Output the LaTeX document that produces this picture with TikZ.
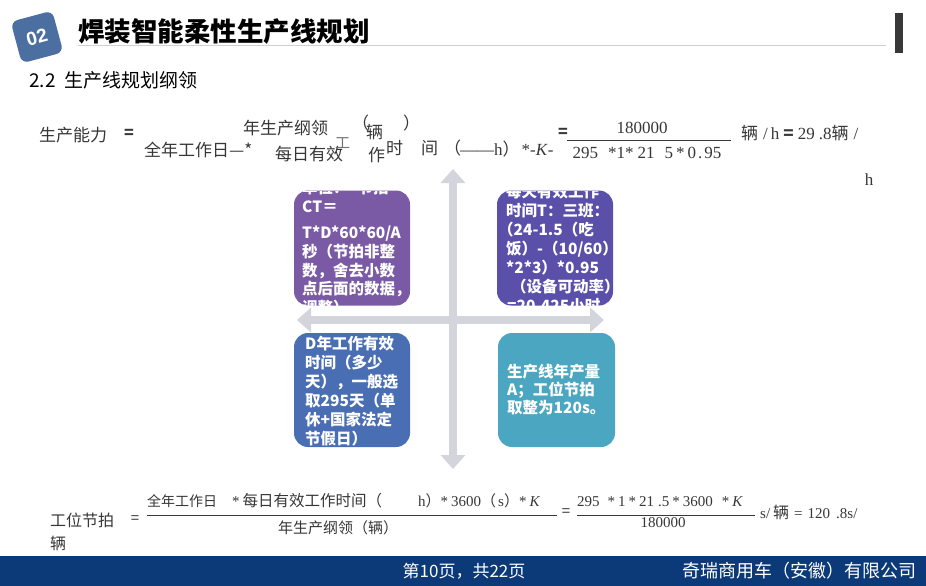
\documentclass[tikz,border=0pt]{standalone}
\usepackage{fontspec}
\setmainfont{Liberation Serif}
\newfontfamily\cjk{Noto Sans CJK SC}
\newfontfamily\lsans{Liberation Sans}
\usetikzlibrary{arrows.meta}
\definecolor{tlcol}{RGB}{122,90,164}
\definecolor{trcol}{RGB}{90,80,170}
\definecolor{blcol}{RGB}{74,110,180}
\definecolor{brcol}{RGB}{75,166,193}
\definecolor{badgecol}{RGB}{74,111,160}
\definecolor{footcol}{RGB}{12,58,120}
\definecolor{arrcol}{RGB}{212,212,220}
\definecolor{ftcol}{RGB}{55,55,55}
\tikzset{
  ftxt/.style={font=\cjk\fontsize{17}{17}\selectfont, text=ftcol, inner sep=0pt, anchor=west},
  fser/.style={font=\fontsize{17}{17}\selectfont, text=ftcol, inner sep=0pt, anchor=west},
  btxt/.style={font=\cjk\fontsize{15}{15}\selectfont, text=ftcol, inner sep=0pt, anchor=west},
  bser/.style={font=\fontsize{15}{15}\selectfont, text=ftcol, inner sep=0pt, anchor=west},
  eqsign/.style={font=\cjk\bfseries\fontsize{16}{16}\selectfont, text=ftcol, inner sep=0pt},
  qbox/.style={rectangle, rounded corners=14pt, minimum width=116pt, minimum height=115pt, inner sep=0pt},
  boxtxt/.style={font=\cjk\bfseries\fontsize{15.5}{18.6}\selectfont, text=white, align=left, inner sep=0pt, anchor=north west},
  bigarrow/.style={draw=arrcol, line width=8pt, {Triangle[width=24pt,length=14pt]}-{Triangle[width=24pt,length=14pt]}},
}
\begin{document}
\begin{tikzpicture}[x=1pt,y=-1pt]
\useasboundingbox (0,0) rectangle (926,586);
\fill[white] (0,0) rectangle (926,586);

% header
\node[rectangle, rounded corners=7pt, fill=badgecol, minimum width=43pt, minimum height=43pt, rotate=15, inner sep=0pt,
      font=\lsans\bfseries\fontsize{19}{19}\selectfont, text=white] (badge) at (37,37) {02};
\node[font=\cjk\bfseries\fontsize{26.5}{26.5}\selectfont, inner sep=0pt, anchor=west] (title) at (78,32) {焊装智能柔性生产线规划};
\coordinate (ruleL) at (78,45.5);
\coordinate (ruleR) at (886,45.5);
\draw[line width=1.6pt, black!18] (ruleL) -- (ruleR);
\fill[black!78] (895,13) rectangle (903,53);
\node[font=\cjk\fontsize{19}{19}\selectfont, inner sep=0pt, anchor=west] (sub) at (29,80) {2.2\hspace{9pt}生产线规划纲领};

% formula 1
\node[ftxt] (f1) at (39,135) {生产能力};
\node[eqsign] (f1eq) at (129,134) {=};
\node[ftxt] (f2) at (144,150) {全年工作日—*};
\node[ftxt] (f3) at (243,128) {年生产纲领};
\node[ftxt] (f4) at (352,123) {（};
\node[ftxt] (f5) at (366,132) {辆};
\node[ftxt] (f6) at (403,123) {）};
\node[ftxt] (f7) at (275,154) {每日有效};
\node[ftxt, font=\cjk\fontsize{15}{15}\selectfont, text=black!55] (f8) at (335,143) {工};
\node[ftxt] (f9) at (368,155) {作};
\node[ftxt] (f10) at (386,148) {时};
\node[ftxt] (f11) at (421,148) {间\hspace{6pt}（};
\node[fser] (f12) at (460,149) {——h{\cjk ）}\hspace{2pt}*-\textit{K}-};
\node[eqsign] (f1eq2) at (563,133) {=};
\node[fser, anchor=center] (fn1) at (642,128) {180000};
\coordinate (fl1a) at (567,140);
\coordinate (fl1b) at (731,140);
\draw[line width=0.8pt, ftcol] (fl1a) -- (fl1b);
\node[fser, anchor=center] (fd1) at (647,153) {295\hspace{10pt}*1*\hspace{4pt}21\hspace{10pt}5\hspace{3pt}*\hspace{3pt}0\hspace{2pt}.\hspace{2pt}95};
\node[fser] (fr1) at (741,133) {{\cjk 辆}\hspace{5pt}/\hspace{3pt}h\hspace{4pt}{\cjk\bfseries =}\hspace{4pt}29\hspace{4pt}.8{\cjk 辆}\hspace{5pt}/};
\node[fser, anchor=center] (fr1h) at (869,180) {h};

% arrows
\coordinate (vtop) at (453,169);
\coordinate (vbot) at (453,469);
\coordinate (hleft) at (297,320);
\coordinate (hright) at (604,320);
\draw[bigarrow] (vtop) -- (vbot);
\draw[bigarrow] (hleft) -- (hright);

% boxes
\node[qbox, fill=tlcol] (tl) at (352,248) {};
\node[qbox, fill=trcol] (tr) at (555,248) {};
\node[qbox, fill=blcol, minimum height=114pt] (bl) at (352,390) {};
\node[qbox, fill=brcol, minimum width=117pt, minimum height=114pt] (br) at (556.5,390) {};

\begin{scope}
\clip[rounded corners=14pt] (tl.south west) rectangle (tl.north east);
\node[boxtxt] (tltxt) at (302,180) {单位：\hspace{9pt}节拍\\CT＝\\[8pt]T*D*60*60/A\\秒（节拍非整\\数，舍去小数\\点后面的数据，\\调整）};
\end{scope}
\begin{scope}
\clip[rounded corners=14pt] (tr.south west) rectangle (tr.north east);
\node[boxtxt, font=\cjk\bfseries\fontsize{15.5}{19}\selectfont] (trtxt) at (506,184) {每天有效工作\\时间T：三班：\\\hspace*{-8pt}（24-1.5（吃\\饭）-（10/60）\\*2*3）*0.95\\\hspace*{5pt}（设备可动率）\\\hspace*{1pt}=20.425小时};
\end{scope}
\begin{scope}
\clip[rounded corners=14pt] (bl.south west) rectangle (bl.north east);
\node[boxtxt, font=\cjk\bfseries\fontsize{15.5}{19}\selectfont] (bltxt) at (305,336) {D年工作有效\\时间（多少\\天），一般选\\取295天（单\\休+国家法定\\节假日）};
\end{scope}
\begin{scope}
\clip[rounded corners=14pt] (br.south west) rectangle (br.north east);
\node[boxtxt, font=\cjk\bfseries\fontsize{15.5}{18}\selectfont] (brtxt) at (507,364) {生产线年产量\\A；工位节拍\\取整为120s。};
\end{scope}

% formula 2
\node[btxt, font=\cjk\fontsize{16}{16}\selectfont] (g1) at (50,520) {工位节拍};
\node[eqsign, font=\cjk\fontsize{15}{15}\selectfont] (g1eq) at (135,520) {=};
\node[btxt, font=\cjk\fontsize{14}{14}\selectfont] (g2) at (147,501) {全年工作日};
\node[bser] (g3) at (232,501) {*\hspace{3pt}{\cjk\fontsize{15.5}{15.5}\selectfont 每日有效工作时间（}};
\node[bser] (g4) at (418,501) {h{\cjk ）}*\hspace{3pt}3600{\cjk （}\hspace{2pt}s{\cjk ）}*\hspace{3pt}\textit{K}};
\coordinate (gl1a) at (147,515);
\coordinate (gl1b) at (557,515);
\draw[line width=0.8pt, ftcol] (gl1a) -- (gl1b);
\node[btxt, anchor=center] (g5) at (338,528) {年生产纲领（辆）};
\node[eqsign, font=\cjk\fontsize{15}{15}\selectfont] (g1eq2) at (566,513) {=};
\node[bser] (g6) at (577,502) {295\hspace{8pt}*\hspace{3pt}1\hspace{3pt}*\hspace{3pt}21\hspace{4pt}.5\hspace{3pt}*\hspace{3pt}3600\hspace{9pt}*\hspace{3pt}\textit{K}};
\coordinate (gl2a) at (577,515);
\coordinate (gl2b) at (755,515);
\draw[line width=0.8pt, ftcol] (gl2a) -- (gl2b);
\node[bser, anchor=center] (g7) at (663,523) {180000};
\node[bser] (g8) at (760,512) {s/\hspace{3pt}{\cjk\fontsize{16}{16}\selectfont 辆}\hspace{5pt}=\hspace{5pt}120\hspace{6pt}.8s/};
\node[btxt, font=\cjk\fontsize{16}{16}\selectfont] (g9) at (50,543) {辆};

% footer
\fill[footcol] (0,556) rectangle (926,586);
\node[font=\cjk\fontsize{17}{17}\selectfont, text=white, inner sep=0pt] (page) at (464,571) {第10页，共22页};
\node[font=\cjk\fontsize{18}{18}\selectfont, text=white, inner sep=0pt, anchor=east] (company) at (917,571) {奇瑞商用车（安徽）有限公司};
\end{tikzpicture}
\end{document}
